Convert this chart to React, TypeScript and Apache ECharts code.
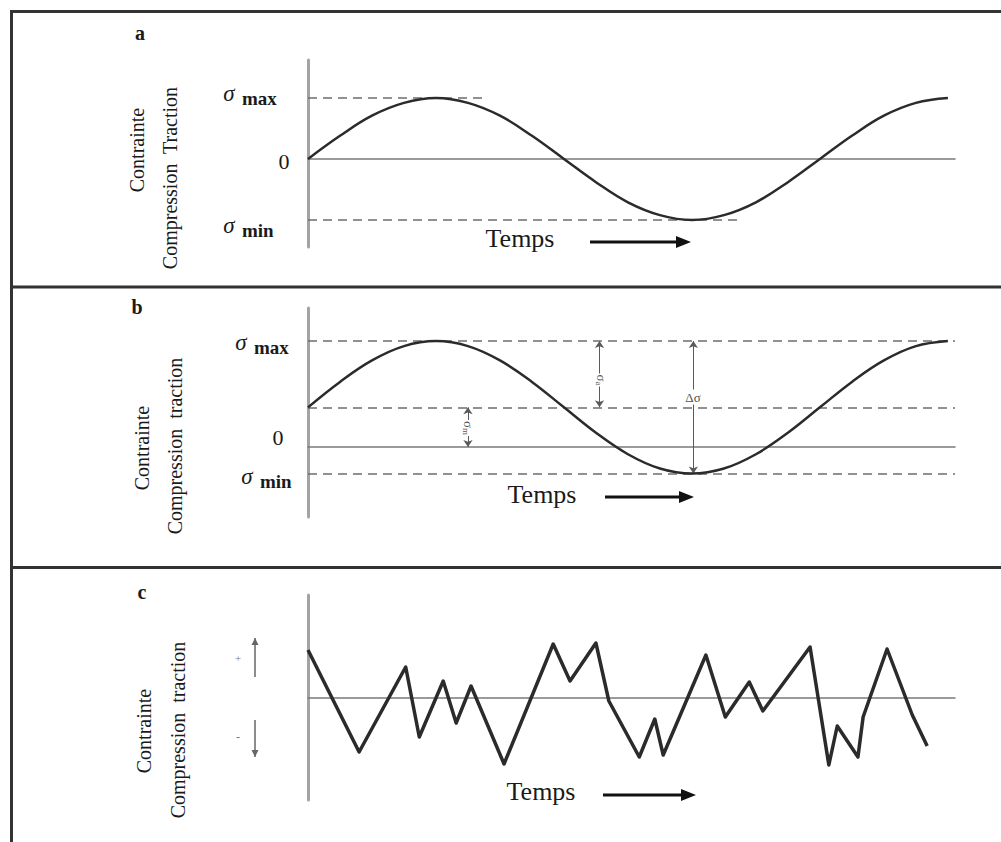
import React, { useEffect, useRef } from "react";
import * as echarts from "echarts";

// Phase of the cyclic loading (degrees) for panels a and b
const PHASE = [0, 22.5, 45, 67.5, 90, 112.5, 135, 157.5, 180, 202.5, 225, 247.5, 270, 292.5, 315, 337.5, 360, 382.5, 405, 427.5, 450];
// Panel a: alternating stress (symmetric)
const STRESS_A = [0, 0.38, 0.71, 0.92, 1, 0.92, 0.71, 0.38, 0, -0.38, -0.71, -0.92, -1, -0.92, -0.71, -0.38, 0, 0.38, 0.71, 0.92, 1];
const A_MAX = 1;
const A_MIN = -1;
const A_MAX_DASH_END = 123;
const A_MIN_DASH_END = 302;
// Panel b: fluctuating stress with a mean value
const STRESS_B = [1.5, 2.46, 3.27, 3.81, 4, 3.81, 3.27, 2.46, 1.5, 0.54, -0.27, -0.81, -1, -0.81, -0.27, 0.54, 1.5, 2.46, 3.27, 3.81, 4];
const B_MAX = 4;
const B_MEAN = 1.5;
const B_MIN = -1;
const B_ARROW_SM = 112.5;
const B_ARROW_SA = 205;
const B_ARROW_DS = 271;
// Panel c: random loading
const TIME_C = [0, 7.9, 15.1, 17.2, 20.9, 22.9, 25.2, 30.3, 37.9, 40.5, 44.5, 46.5, 51.2, 53.6, 54.9, 61.5, 64.5, 68.2, 70.3, 77.6, 80.5, 81.8, 85.0, 85.8, 89.5, 93.4, 95.7];
const STRESS_C = [0.96, -1.08, 0.62, -0.78, 0.34, -0.5, 0.24, -1.32, 1.08, 0.34, 1.1, -0.06, -1.18, -0.42, -1.14, 0.86, -0.38, 0.32, -0.26, 1.02, -1.34, -0.56, -1.18, -0.38, 0.98, -0.34, -0.96];

const FONT = "Liberation Serif";
const CURVE = "#2b2b2b";
const DASH = "#6e6e6e";
const AXIS = "#a3a3a3";

function hArrow(x1: number, x2: number, y: number): any[] {
  return [
    { type: "line", shape: { x1, y1: y, x2: x2 - 12, y2: y }, style: { stroke: "#111", lineWidth: 3 } },
    { type: "polygon", shape: { points: [[x2 - 15, y - 6], [x2, y], [x2 - 15, y + 6]] }, style: { fill: "#111" } },
  ];
}

function vArrow(x: number, yTop: number, yBot: number, up: boolean): any[] {
  const tip = up ? yTop : yBot;
  const d = up ? 7 : -7;
  return [
    { type: "line", shape: { x1: x, y1: yTop, x2: x, y2: yBot }, style: { stroke: "#666", lineWidth: 1.5 } },
    { type: "polygon", shape: { points: [[x - 3.5, tip + d], [x, tip], [x + 3.5, tip + d]] }, style: { fill: "#666" } },
  ];
}

function txt(text: string, x: number, y: number, size: number, extra: any = {}): any {
  return {
    type: "text",
    x,
    y,
    style: {
      text,
      font: `${extra.weight || "normal"} ${size}px "${FONT}"`,
      fontStyle: extra.italic ? "italic" : "normal",
      fill: extra.fill || "#1a1a1a",
      align: extra.align || "center",
      verticalAlign: "middle",
    },
    rotation: extra.rotation || 0,
    z: 10,
  };
}

function sigma(x: number, y: number, sub: string): any[] {
  return [
    {
      type: "text",
      x,
      y,
      style: { text: "σ", font: `italic 23px "${FONT}"`, fill: "#1a1a1a", align: "center", verticalAlign: "middle" },
      z: 10,
    },
    {
      type: "text",
      x: x + 13,
      y: y + 5,
      style: { text: sub, font: `bold 19px "${FONT}"`, fill: "#1a1a1a", align: "left", verticalAlign: "middle" },
      z: 10,
    },
  ];
}

function smallLabel(x: number, y: number, main: string, sub: string, rotation: number): any {
  return {
    type: "text",
    x,
    y,
    rotation,
    z: 10,
    style: {
      text: sub ? `{m|${main}}{s|${sub}}` : `{m|${main}}`,
      align: "center",
      verticalAlign: "middle",
      backgroundColor: "#fff",
      padding: [1, 1],
      rich: {
        m: { fontSize: 13, fontFamily: FONT, fill: "#555", color: "#555" },
        s: { fontSize: 9, fontFamily: FONT, fill: "#555", color: "#555", padding: [5, 0, 0, 0] },
      },
    },
  };
}

const dashStyle = { color: DASH, width: 1.5, type: [9, 6] as any };

export default function App() {
  const ref = useRef<HTMLDivElement>(null);
  useEffect(() => {
    if (!ref.current) return;
    const chart = echarts.init(ref.current, undefined, { renderer: "svg" });

    const grids = [
      { left: 308, width: 647, top: 60, height: 187 },
      { left: 308, width: 647, top: 308, height: 209 },
      { left: 308, width: 647, top: 595, height: 205 },
    ];
    const xRanges = [
      [0, 455],
      [0, 455],
      [0, 100],
    ];
    const yRanges = [
      [-1.443, 1.623],
      [-2.64, 5.25],
      [-2.04, 2.06],
    ];

    const xAxis = xRanges.map((r, i) => ({
      type: "value",
      gridIndex: i,
      min: r[0],
      max: r[1],
      axisLine: { show: true, onZero: true, lineStyle: { color: "#7a7a7a", width: 1.5 } },
      axisTick: { show: false },
      axisLabel: { show: false },
      splitLine: { show: false },
    }));
    const yAxis = yRanges.map((r, i) => ({
      type: "value",
      gridIndex: i,
      min: r[0],
      max: r[1],
      axisLine: { show: true, lineStyle: { color: AXIS, width: 3 } },
      axisTick: { show: false },
      axisLabel: { show: false },
      splitLine: { show: false },
    }));

    const series: any[] = [
      {
        type: "line",
        xAxisIndex: 0,
        yAxisIndex: 0,
        data: PHASE.map((p, i) => [p, STRESS_A[i]]),
        smooth: 0.4,
        showSymbol: false,
        lineStyle: { color: CURVE, width: 2.5 },
        z: 5,
        markLine: {
          silent: true,
          symbol: "none",
          label: { show: false },
          lineStyle: dashStyle,
          data: [
            [{ coord: [0, A_MAX] }, { coord: [A_MAX_DASH_END, A_MAX] }],
            [{ coord: [0, A_MIN] }, { coord: [A_MIN_DASH_END, A_MIN] }],
          ],
        },
      },
      {
        type: "line",
        xAxisIndex: 1,
        yAxisIndex: 1,
        data: PHASE.map((p, i) => [p, STRESS_B[i]]),
        smooth: 0.4,
        showSymbol: false,
        lineStyle: { color: CURVE, width: 2.5 },
        z: 5,
        markLine: {
          silent: true,
          symbol: "none",
          label: { show: false },
          lineStyle: dashStyle,
          data: [
            [{ coord: [0, B_MAX] }, { coord: [455, B_MAX] }],
            [{ coord: [0, B_MEAN] }, { coord: [455, B_MEAN] }],
            [{ coord: [0, B_MIN] }, { coord: [455, B_MIN] }],
          ],
        },
      },
      {
        type: "line",
        xAxisIndex: 1,
        yAxisIndex: 1,
        data: [],
        markLine: {
          silent: true,
          symbol: ["arrow", "arrow"],
          symbolSize: 7,
          label: { show: false },
          lineStyle: { color: "#5a5a5a", width: 1, type: "solid" },
          data: [
            [{ coord: [B_ARROW_SM, B_MEAN] }, { coord: [B_ARROW_SM, 0] }],
            [{ coord: [B_ARROW_SA, B_MAX] }, { coord: [B_ARROW_SA, B_MEAN] }],
            [{ coord: [B_ARROW_DS, B_MAX] }, { coord: [B_ARROW_DS, B_MIN] }],
          ],
        },
      },
      {
        type: "line",
        xAxisIndex: 2,
        yAxisIndex: 2,
        data: TIME_C.map((t, i) => [t, STRESS_C[i]]),
        showSymbol: false,
        lineStyle: { color: CURVE, width: 3.5, join: "round" },
        z: 5,
      },
    ];

    const graphic: any[] = [
      // frame
      { type: "line", shape: { x1: 10, y1: 11.5, x2: 1001, y2: 11.5 }, style: { stroke: "#333", lineWidth: 3 } },
      { type: "line", shape: { x1: 11.5, y1: 10, x2: 11.5, y2: 842 }, style: { stroke: "#333", lineWidth: 3 } },
      { type: "line", shape: { x1: 10, y1: 287, x2: 1001, y2: 287 }, style: { stroke: "#333", lineWidth: 3 } },
      { type: "line", shape: { x1: 10, y1: 567.5, x2: 1001, y2: 567.5 }, style: { stroke: "#333", lineWidth: 3 } },
      // panel letters
      txt("a", 140, 33, 20, { weight: "bold" }),
      txt("b", 137, 307, 20, { weight: "bold" }),
      txt("c", 142, 592, 20, { weight: "bold" }),
      // y titles
      txt("Contrainte", 137, 150, 20, { rotation: Math.PI / 2 }),
      txt("Compression  Traction", 170, 178, 20, { rotation: Math.PI / 2 }),
      txt("Contrainte", 142, 448, 20, { rotation: Math.PI / 2 }),
      txt("Compression  traction", 175, 446, 20, { rotation: Math.PI / 2 }),
      txt("Contrainte", 144, 731, 20, { rotation: Math.PI / 2 }),
      txt("Compression  traction", 178, 730, 20, { rotation: Math.PI / 2 }),
      // panel a labels
      ...sigma(229, 93, "max"),
      txt("0", 284, 161, 22),
      ...sigma(229, 225, "min"),
      // panel b labels
      ...sigma(241, 342, "max"),
      txt("0", 278, 437, 22),
      ...sigma(247, 476, "min"),
      smallLabel(468, 428, "σ", "m", -Math.PI / 2),
      smallLabel(601, 380, "σ", "a", -Math.PI / 2),
      smallLabel(693, 397, "Δσ", "", 0),
      // panel c signs
      txt("+", 238, 658, 11, { fill: "#777" }),
      ...vArrow(255, 638, 677, true),
      txt("-", 238, 737, 12, { fill: "#777" }),
      ...vArrow(255, 720, 757, false),
      // Temps
      txt("Temps", 520, 238, 26),
      ...hArrow(590, 691, 242),
      txt("Temps", 542, 494, 26),
      ...hArrow(605, 694, 497),
      txt("Temps", 541, 791, 26),
      ...hArrow(603, 696, 795),
    ];

    chart.setOption({
      animation: false,
      backgroundColor: "#fff",
      grid: grids,
      xAxis,
      yAxis,
      series,
      graphic,
    });
    return () => chart.dispose();
  }, []);

  return (
    <div
      ref={ref}
      style={{ position: "fixed", left: 0, top: 0, width: 1001, height: 842, background: "#fff" }}
    />
  );
}
